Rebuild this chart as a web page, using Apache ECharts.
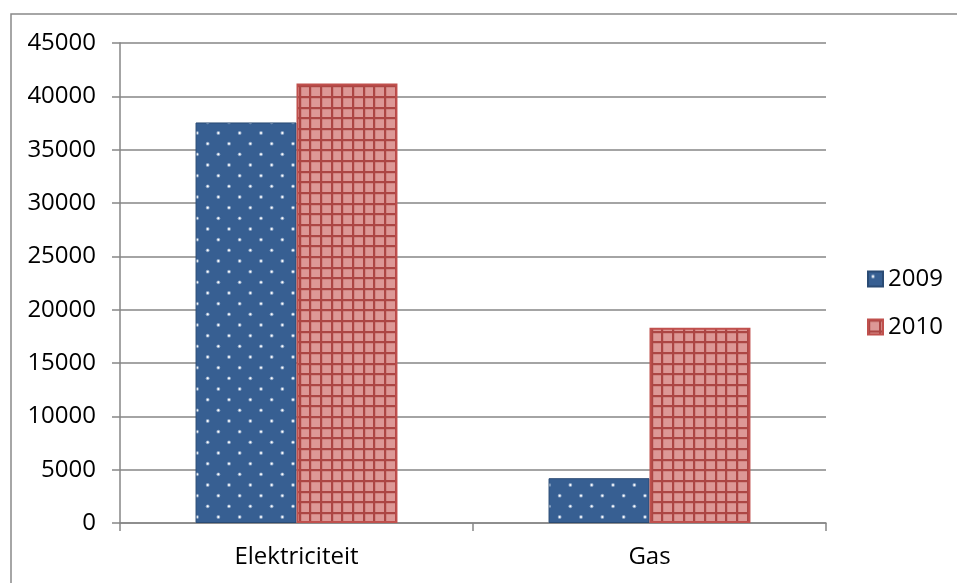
<!DOCTYPE html>
<html>
<head>
<meta charset="utf-8">
<script src="https://cdn.jsdelivr.net/npm/echarts@6/dist/echarts.min.js"></script>
<style>
  html, body { margin: 0; padding: 0; background: #fff; }
  #chart { width: 957px; height: 583px; }
</style>
</head>
<body>
<div id="chart"></div>
<script>
// Energy use per year
const categories = ['Elektriciteit', 'Gas'];
const years = ['2009', '2010'];
const values2009 = [37550, 4200];
const values2010 = [41200, 18300];
const yTicks = { min: 0, max: 45000, interval: 5000 };

const FONT = '"Open Sans", "Noto Sans", sans-serif';
const FONT_SIZE = 24;

// Blue fill with a staggered grid of small white dots
function dotPattern() {
  const c = document.createElement('canvas');
  c.width = 64; c.height = 64;
  const g = c.getContext('2d');
  g.fillStyle = '#375F92';
  g.fillRect(0, 0, 64, 64);
  const step = 64 / 3;
  for (let r = 0; r < 6; r++) {
    for (let k = 0; k < 3; k++) {
      const x = k * step + (r % 2 ? step / 2 : 0) + 5;
      const y = r * step / 2 + 5;
      g.fillStyle = 'rgba(200,215,235,0.6)';
      g.beginPath(); g.arc(x, y, 1.9, 0, Math.PI * 2); g.fill();
      g.fillStyle = '#FFFFFF';
      g.beginPath(); g.arc(x, y, 1.0, 0, Math.PI * 2); g.fill();
    }
  }
  return c;
}

// Pink fill with a dark red lattice
function gridPattern() {
  const c = document.createElement('canvas');
  c.width = 32; c.height = 32;
  const g = c.getContext('2d');
  g.fillStyle = '#DD9896';
  g.fillRect(0, 0, 32, 32);
  const step = 32 / 3;
  // soft halo next to each lattice line
  g.fillStyle = 'rgba(190,100,98,0.35)';
  for (let i = 0; i < 3; i++) {
    const p = Math.round(i * step);
    g.fillRect(p + 2, 0, 1, 32);
    g.fillRect(0, p + 2, 32, 1);
  }
  g.fillStyle = '#AC4644';
  for (let i = 0; i < 3; i++) {
    const p = Math.round(i * step);
    g.fillRect(p, 0, 2, 32);
    g.fillRect(0, p, 32, 2);
  }
  return c;
}

const bluePat = { image: dotPattern(), repeat: 'repeat' };
const redPat = { image: gridPattern(), repeat: 'repeat' };

const chart = echarts.init(document.getElementById('chart'), null, { renderer: 'canvas' });

chart.setOption({
  animation: false,
  backgroundColor: '#ffffff',
  textStyle: { fontFamily: FONT },
  graphic: [{
    type: 'rect',
    shape: { x: 11, y: 14, width: 1000, height: 1000 },
    style: { fill: 'none', stroke: '#898989', lineWidth: 1.5 },
    silent: true,
    z: -1
  }],
  grid: { left: 120, right: 131, top: 43, bottom: 60, containLabel: false },
  legend: {
    orient: 'vertical',
    left: 862,
    top: 261,
    itemWidth: 15,
    itemHeight: 15,
    itemGap: 22,
    icon: 'rect',
    textStyle: { fontFamily: FONT, fontSize: FONT_SIZE, lineHeight: 26, color: '#000' },
    data: years
  },
  xAxis: {
    type: 'category',
    data: categories,
    axisLine: { show: true, lineStyle: { color: '#868686', width: 1.5 } },
    axisTick: { show: true, length: 8, lineStyle: { color: '#868686', width: 1.5 } },
    axisLabel: { fontFamily: FONT, fontSize: FONT_SIZE, color: '#000', margin: 22 }
  },
  yAxis: {
    type: 'value',
    min: yTicks.min,
    max: yTicks.max,
    interval: yTicks.interval,
    axisLine: { show: true, lineStyle: { color: '#868686', width: 1.5 } },
    axisTick: { show: true, length: 8, lineStyle: { color: '#868686', width: 1.5 } },
    axisLabel: {
      fontFamily: FONT, fontSize: FONT_SIZE, color: '#000', margin: 24,
      formatter: v => String(v)
    },
    splitLine: { show: true, lineStyle: { color: '#868686', width: 1.5 } }
  },
  series: [
    {
      name: years[0],
      type: 'bar',
      data: values2009,
      barGap: '0%',
      barCategoryGap: '42.8%',
      itemStyle: { color: bluePat, borderColor: '#2A4B74', borderWidth: 1 }
    },
    {
      name: years[1],
      type: 'bar',
      data: values2010,
      barGap: '0%',
      barCategoryGap: '42.8%',
      itemStyle: { color: redPat, borderColor: '#C0504D', borderWidth: 2 }
    }
  ]
});
</script>
</body>
</html>
